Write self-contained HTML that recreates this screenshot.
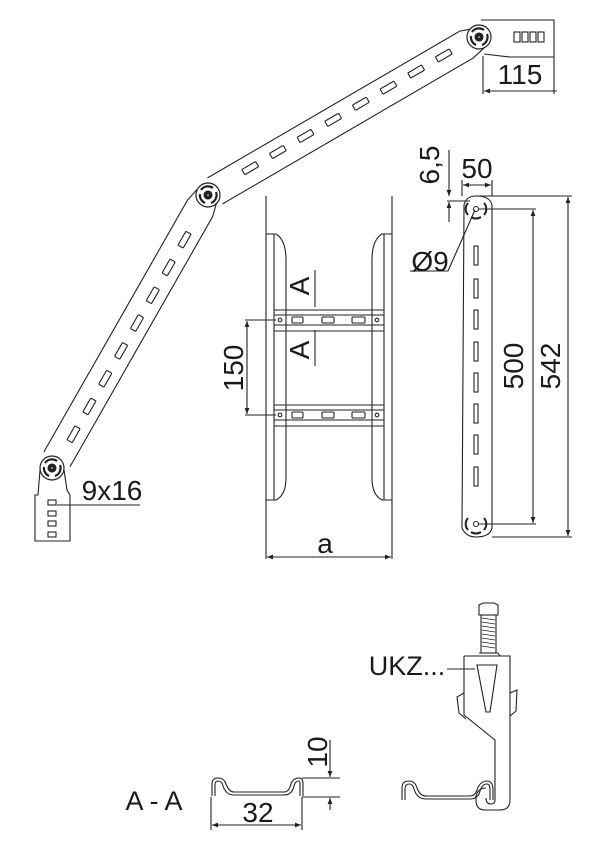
<!DOCTYPE html>
<html><head><meta charset="utf-8"><style>
html,body{margin:0;padding:0;background:#fff;}
svg{display:block;}
text{font-family:"Liberation Sans",sans-serif;fill:#1a1a1a;}
</style></head><body>
<svg width="600" height="859" viewBox="0 0 600 859" xmlns="http://www.w3.org/2000/svg">
<defs>
<marker id="ar" viewBox="0 0 10 10" refX="10" refY="5" markerWidth="9" markerHeight="6" orient="auto-start-reverse" markerUnits="userSpaceOnUse">
<path d="M0,1 L10,5 L0,9 z" fill="#222"/></marker>
<g id="joint">
<circle r="12" fill="#fff" stroke="#222" stroke-width="1.2"/>
<path d="M-7,-5 A8.5,8.5 0 0 1 5,-7" fill="none" stroke="#222" stroke-width="2.2"/>
<path d="M8,-3 A8.5,8.5 0 0 1 3,8" fill="none" stroke="#222" stroke-width="2.2"/>
<path d="M-3,8 A8.5,8.5 0 0 1 -8,-1" fill="none" stroke="#222" stroke-width="2.2"/>
<circle r="4" fill="#222"/><circle r="1.3" fill="#fff"/>
</g>
<rect id="slot" x="-8" y="-3" width="16" height="6" rx="1" fill="#fff" stroke="#222" stroke-width="1.1"/>
</defs>
<g stroke="#222" fill="none" stroke-width="1.1">

<g transform="translate(208,195) rotate(-30.2)">
<path d="M8,-15 L300,-15 L314,-10 M8,15 L298,15 L312,12" />
<use href="#slot" x="50" y="-2"/><use href="#slot" x="82" y="-2"/><use href="#slot" x="114" y="-2"/><use href="#slot" x="146" y="-2"/>
<use href="#slot" x="178" y="-2"/><use href="#slot" x="210" y="-2"/><use href="#slot" x="242" y="-2"/><use href="#slot" x="274" y="-2"/>
</g>
<g transform="translate(52,468) rotate(-60.3)">
<path d="M10,-15 L300,-15 L314,-12 M10,15 L298,15 L314,11" />
<use href="#slot" x="40" y="2"/><use href="#slot" x="72" y="2"/><use href="#slot" x="104" y="2"/><use href="#slot" x="136" y="2"/>
<use href="#slot" x="168" y="2"/><use href="#slot" x="200" y="2"/><use href="#slot" x="232" y="2"/><use href="#slot" x="264" y="2"/>
</g>
<path d="M481,20 L554,20 L554,57 L510,57 L484,54"/>
<rect x="514" y="32" width="6" height="10"/><rect x="522" y="32" width="6" height="10"/><rect x="530" y="32" width="6" height="10"/><rect x="538" y="32" width="6" height="10"/>
<use href="#joint" x="479" y="37"/>
<use href="#joint" x="208" y="195"/>
<path d="M40,470 L38,495 L35,495 L35,541 L70,541 L70,495 L67,490 L64,470"/>
<rect x="48" y="500" width="8" height="5"/><rect x="48" y="511" width="8" height="5"/><rect x="48" y="521" width="8" height="5"/><rect x="48" y="532" width="8" height="5"/>
<use href="#joint" x="52" y="468"/>

<line x1="483" y1="56" x2="483" y2="94"/><line x1="554" y1="57" x2="554" y2="94"/>
<line x1="484" y1="91" x2="557" y2="91" marker-start="url(#ar)"/>
<line x1="57" y1="505" x2="140" y2="505"/>

<line x1="266" y1="196" x2="266" y2="559"/><line x1="392" y1="196" x2="392" y2="559"/>
<line x1="274" y1="234" x2="274" y2="500"/><line x1="384" y1="234" x2="384" y2="500"/>
<path d="M266,234 L276,234 Q286,240 286,260 L286,478 Q286,495 276,500 L266,500"/>
<path d="M392,234 L382,234 Q372,240 372,260 L372,478 Q372,495 382,500 L392,500"/>
<g>
<line x1="274" y1="310" x2="384" y2="310"/><line x1="274" y1="315" x2="384" y2="315"/>
<line x1="274" y1="325" x2="384" y2="325"/><line x1="274" y1="331" x2="384" y2="331"/>
<rect x="292" y="317" width="11" height="6" rx="1" fill="#fff"/><rect x="322" y="317" width="12" height="6" rx="1" fill="#fff"/><rect x="352" y="317" width="13" height="6" rx="1" fill="#fff"/>
<circle cx="280" cy="320" r="1.8"/><circle cx="377" cy="320" r="1.8"/>
</g>
<g transform="translate(0,95)">
<line x1="274" y1="310" x2="384" y2="310"/><line x1="274" y1="315" x2="384" y2="315"/>
<line x1="274" y1="325" x2="384" y2="325"/><line x1="274" y1="331" x2="384" y2="331"/>
<rect x="292" y="317" width="11" height="6" rx="1" fill="#fff"/><rect x="322" y="317" width="12" height="6" rx="1" fill="#fff"/><rect x="352" y="317" width="13" height="6" rx="1" fill="#fff"/>
<circle cx="280" cy="320" r="1.8"/><circle cx="377" cy="320" r="1.8"/>
</g>
<line x1="315" y1="270" x2="315" y2="307"/><line x1="315" y1="330" x2="315" y2="366"/>
<line x1="245" y1="320" x2="276" y2="320"/><line x1="245" y1="415" x2="276" y2="415"/>
<line x1="247" y1="321" x2="247" y2="414" marker-start="url(#ar)" marker-end="url(#ar)"/>
<line x1="267" y1="557" x2="391" y2="557" marker-start="url(#ar)" marker-end="url(#ar)"/>

<path d="M464,205 Q466,196 476,196 Q490,196 492,205 L492,528 Q490,537 476,537 Q466,537 462,528 Z"/>
<rect x="474" y="246" width="4" height="19"/><rect x="474" y="279" width="4" height="19"/><rect x="474" y="310" width="4" height="19"/><rect x="474" y="342" width="4" height="19"/>
<rect x="474" y="373" width="4" height="19"/><rect x="474" y="404" width="4" height="19"/><rect x="474" y="435" width="4" height="19"/><rect x="474" y="467" width="4" height="19"/>
<circle cx="476" cy="209" r="2.5"/><circle cx="476" cy="524" r="2.5"/>
<path d="M468,203 A9,9 0 0 0 468,215 M484,203 A9,9 0 0 1 484,215 M471,217 A9,9 0 0 0 481,217" stroke-width="2"/>
<path d="M468,518 A9,9 0 0 0 468,530 M484,518 A9,9 0 0 1 484,530 M471,532 A9,9 0 0 0 481,532" stroke-width="2"/>
<line x1="478" y1="209" x2="536" y2="209"/><line x1="478" y1="524" x2="536" y2="524"/>
<line x1="533" y1="210" x2="533" y2="523" marker-start="url(#ar)" marker-end="url(#ar)"/>
<line x1="476" y1="196" x2="572" y2="196"/><line x1="492" y1="537" x2="572" y2="537"/>
<line x1="568" y1="197" x2="568" y2="536" marker-start="url(#ar)" marker-end="url(#ar)"/>
<line x1="462" y1="180" x2="462" y2="196"/><line x1="492" y1="180" x2="492" y2="196"/>
<line x1="463" y1="185" x2="491" y2="185" marker-start="url(#ar)" marker-end="url(#ar)"/>
<line x1="447" y1="201" x2="470" y2="201"/>
<line x1="449" y1="150" x2="449" y2="196" marker-end="url(#ar)"/>
<line x1="449" y1="222" x2="449" y2="202" marker-end="url(#ar)"/>
<polyline points="410,271 448,271 475,210"/>

<path d="M212,796 L212,784 Q212,778 218,778 Q224,778 226,784 Q229,792 234,792 L284,792 Q289,792 291,784 Q293,778 299,778 Q303,778 303,784 L303,796"/>
<path d="M215,796 L215,785 Q215,781 218,781 Q222,781 223,786 Q226,795 234,795 L284,795 Q292,795 294,786 Q295,781 299,781 Q300,781 300,785 L300,796"/>
<line x1="211" y1="797" x2="211" y2="830"/><line x1="302" y1="797" x2="302" y2="830"/>
<line x1="212" y1="825" x2="301" y2="825" marker-start="url(#ar)" marker-end="url(#ar)"/>
<line x1="302" y1="778" x2="340" y2="778"/><line x1="302" y1="797" x2="340" y2="797"/>
<line x1="330" y1="740" x2="330" y2="777" marker-end="url(#ar)"/>
<line x1="330" y1="810" x2="330" y2="798" marker-end="url(#ar)"/>

<path d="M479,605 L483,603 L494,603 L498,605 L498,615 L479,615 Z"/>
<rect x="481" y="615" width="15" height="38"/>
<path d="M482,618 L495,620 M482,622 L495,624 M482,626 L495,628 M482,630 L495,632 M482,634 L495,636 M482,638 L495,640 M482,642 L495,644 M482,646 L495,648" stroke-width="0.7"/>
<path d="M479,653 L498,653 L500,656"/>
<path d="M464,656 L510,656 L510,800 Q510,810 500,810 L485,810 Q476,810 476,800 L476,796 Q478,788 486,788"/>
<path d="M464,656 L464,715 L495,740 L495,800 Q495,804 491,804 Q486,804 486,798"/>
<path d="M477,665 L497,665 L490,712 L486,712 Z"/>
<path d="M464,693 L457,697 L459,713 L466,719 M510,693 L517,690 L516,711 L510,716"/>
<path d="M402,800 L402,788 Q402,781 409,781 Q415,781 417,788 Q420,796 426,796 L470,796 Q475,796 477,790 Q480,781 487,781 Q493,781 493,790 L493,800"/>
<path d="M405,800 L405,789 Q405,784 409,784 Q413,784 414,789 Q417,799 426,799 L470,799 Q478,799 480,791 Q482,784 487,784 Q490,784 490,790 L490,800"/>
<line x1="447" y1="669" x2="475" y2="669"/>
</g>

<g font-size="28" text-anchor="middle">
<text x="520" y="84">115</text>
<text x="112" y="500">9x16</text>
<text x="325" y="553">a</text>
<text x="477" y="178">50</text>
<text x="430" y="271">Ø9</text>
<text transform="translate(243,368) rotate(-90)">150</text>
<text transform="translate(523,366) rotate(-90)">500</text>
<text transform="translate(560,366) rotate(-90)">542</text>
<text transform="translate(439,165) rotate(-90)">6,5</text>
<text transform="translate(309,286) rotate(-90)">A</text>
<text transform="translate(309,350) rotate(-90)">A</text>
<text transform="translate(327,752) rotate(-90)">10</text>
<text x="258" y="822">32</text>
<text x="154" y="810" font-size="27">A - A</text>
<text x="407" y="675" font-size="27">UKZ...</text>
</g>
</svg>
</body></html>
